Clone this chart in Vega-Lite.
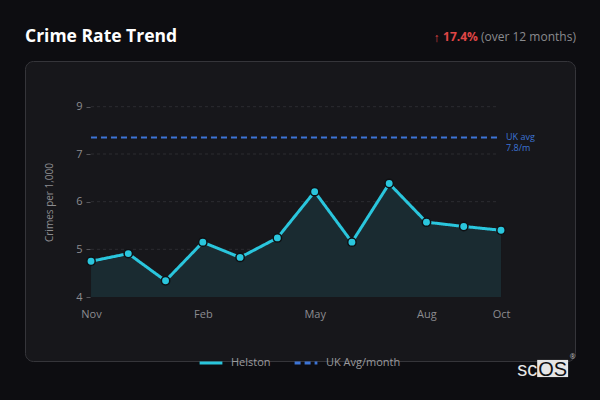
{
  "$schema": "https://vega.github.io/schema/vega-lite/v6.json",
  "width": 550,
  "height": 300,
  "autosize": {"type": "none"},
  "padding": {"left": 25, "top": 61, "right": 25, "bottom": 39},
  "background": "#0d0d11",
  "config": {
    "font": "Open Sans",
    "view": {"fill": "#17171b", "stroke": "#35353a", "strokeWidth": 1, "cornerRadius": 8}
  },
  "datasets": {
    "crime": [
      {"i": 0, "month": "Nov", "v": 4.75, "series": "Helston"},
      {"i": 1, "month": "Dec", "v": 4.91, "series": "Helston"},
      {"i": 2, "month": "Jan", "v": 4.34, "series": "Helston"},
      {"i": 3, "month": "Feb", "v": 5.15, "series": "Helston"},
      {"i": 4, "month": "Mar", "v": 4.83, "series": "Helston"},
      {"i": 5, "month": "Apr", "v": 5.24, "series": "Helston"},
      {"i": 6, "month": "May", "v": 6.21, "series": "Helston"},
      {"i": 7, "month": "Jun", "v": 5.15, "series": "Helston"},
      {"i": 8, "month": "Jul", "v": 6.38, "series": "Helston"},
      {"i": 9, "month": "Aug", "v": 5.57, "series": "Helston"},
      {"i": 10, "month": "Sep", "v": 5.48, "series": "Helston"},
      {"i": 11, "month": "Oct", "v": 5.40, "series": "Helston"}
    ],
    "avg": [{"series": "UK Avg/month", "v": 7.7}],
    "grid": [{"g": 5}, {"g": 6}, {"g": 7}, {"g": 9}]
  },
  "encoding": {
    "x": {
      "type": "quantitative",
      "scale": {"domain": [-1.771, 12.985], "nice": false, "zero": false},
      "axis": {
        "title": null,
        "values": [0, 3, 6, 9, 11],
        "labelExpr": "['Nov','Dec','Jan','Feb','Mar','Apr','May','Jun','Jul','Aug','Sep','Oct'][datum.value]",
        "offset": -63,
        "domain": false,
        "ticks": false,
        "tickSize": 0,
        "grid": false,
        "labelPadding": 10,
        "labelFontSize": 11,
        "labelColor": "#8c8c90",
        "labelFont": "Open Sans"
      }
    },
    "y": {
      "type": "quantitative",
      "scale": {"domain": [4, 7, 9], "range": [236, 93, 45.7], "nice": false, "zero": false},
      "axis": {
        "title": "Crimes per 1,000",
        "values": [4, 5, 6, 7, 9],
        "offset": -65,
        "domain": false,
        "ticks": true,
        "tickSize": 4,
        "tickColor": "#55555a",
        "grid": false,
        "labelPadding": 4,
        "labelFontSize": 11,
        "labelColor": "#8c8c90",
        "titleFontSize": 10,
        "titleFontWeight": "normal",
        "titleColor": "#8c8c90",
        "titleX": -41,
        "titleY": 141,
        "titleAngle": -90,
        "titleAlign": "center",
        "titleBaseline": "middle"
      }
    }
  },
  "layer": [
    {
      "data": {"name": "grid"},
      "mark": {"type": "rule", "color": "#2c2c31", "strokeWidth": 1, "strokeDash": [3, 3]},
      "encoding": {
        "x": {"datum": 0, "type": "quantitative"},
        "x2": {"datum": 10.9},
        "y": {"field": "g", "type": "quantitative"}
      }
    },
    {
      "data": {"name": "crime"},
      "mark": {"type": "area", "color": "#1a2b31", "opacity": 1},
      "encoding": {
        "x": {"field": "i", "type": "quantitative"},
        "y": {"field": "v", "type": "quantitative"},
        "y2": {"datum": 4}
      }
    },
    {
      "data": {"name": "avg"},
      "mark": {"type": "rule", "strokeWidth": 2},
      "encoding": {
        "x": {"datum": 0, "type": "quantitative"},
        "x2": {"datum": 10.9},
        "y": {"field": "v", "type": "quantitative"},
        "color": {"field": "series", "type": "nominal"},
        "strokeDash": {"field": "series", "type": "nominal"}
      }
    },
    {
      "data": {"name": "crime"},
      "mark": {"type": "line", "strokeWidth": 3},
      "encoding": {
        "x": {"field": "i", "type": "quantitative"},
        "y": {"field": "v", "type": "quantitative"},
        "color": {
          "field": "series",
          "type": "nominal",
          "scale": {"domain": ["Helston", "UK Avg/month"], "range": ["#2ac6dd", "#3d74d6"]},
          "legend": {
            "title": null,
            "orient": "none",
            "direction": "horizontal",
            "legendX": 173,
            "legendY": 289,
            "symbolType": "stroke",
            "symbolSize": 520,
            "symbolStrokeWidth": 3,
            "labelFontSize": 11,
            "labelColor": "#9a9a9e",
            "labelOffset": 7,
            "columnPadding": 17
          }
        },
        "strokeDash": {
          "field": "series",
          "type": "nominal",
          "scale": {"domain": ["Helston", "UK Avg/month"], "range": [[1, 0], [6, 4]]},
          "legend": {
            "title": null,
            "orient": "none",
            "direction": "horizontal",
            "legendX": 173,
            "legendY": 289,
            "symbolType": "stroke",
            "symbolSize": 520,
            "symbolStrokeWidth": 3,
            "labelFontSize": 11,
            "labelColor": "#9a9a9e",
            "labelOffset": 7,
            "columnPadding": 17
          }
        }
      }
    },
    {
      "data": {"name": "crime"},
      "mark": {"type": "point", "filled": true, "fill": "#2ac6dd", "stroke": "#0f1013", "strokeWidth": 1.5, "size": 70, "opacity": 1},
      "encoding": {
        "x": {"field": "i", "type": "quantitative"},
        "y": {"field": "v", "type": "quantitative"}
      }
    },
    {
      "data": {"values": [{}]},
      "mark": {"type": "text", "align": "left", "baseline": "middle", "fontSize": 9, "lineHeight": 11.5, "color": "#3d74d6", "clip": false},
      "encoding": {"x": {"datum": 11.135, "type": "quantitative"}, "y": {"datum": 7.72, "type": "quantitative"}, "text": {"value": ["UK avg", "7.8/m"]}}
    },
    {
      "data": {"values": [{}]},
      "mark": {"type": "text", "align": "left", "baseline": "middle", "fontSize": 17.5, "fontWeight": "bold", "color": "#ffffff", "clip": false},
      "encoding": {"x": {"datum": -1.771, "type": "quantitative"}, "y": {"datum": 11.94, "type": "quantitative"}, "text": {"value": "Crime Rate Trend"}}
    },
    {
      "data": {"values": [{}]},
      "mark": {"type": "text", "align": "right", "baseline": "middle", "fontSize": 12, "color": "#8a8a8e", "clip": false},
      "encoding": {"x": {"datum": 13.01, "type": "quantitative"}, "y": {"datum": 11.94, "type": "quantitative"}, "text": {"value": "(over 12 months)"}}
    },
    {
      "data": {"values": [{}]},
      "mark": {"type": "text", "align": "right", "baseline": "middle", "fontSize": 12, "fontWeight": "bold", "color": "#e04646", "clip": false},
      "encoding": {"x": {"datum": 10.38, "type": "quantitative"}, "y": {"datum": 11.94, "type": "quantitative"}, "text": {"value": "17.4%"}}
    },
    {
      "data": {"values": [{}]},
      "mark": {"type": "text", "align": "center", "baseline": "middle", "fontSize": 12, "color": "#e04646", "clip": false},
      "encoding": {"x": {"datum": 9.27, "type": "quantitative"}, "y": {"datum": 11.9, "type": "quantitative"}, "text": {"value": "↑"}}
    },
    {
      "data": {"values": [{}]},
      "mark": {"type": "rect", "color": "#e6e6e6", "clip": false},
      "encoding": {"x": {"datum": 11.97, "type": "quantitative"}, "x2": {"datum": 12.80}, "y": {"datum": 2.68, "type": "quantitative"}, "y2": {"datum": 2.32}}
    },
    {
      "data": {"values": [{}]},
      "mark": {"type": "text", "align": "right", "baseline": "alphabetic", "fontSize": 20, "font": "Liberation Sans", "color": "#e6e6e6", "clip": false},
      "encoding": {"x": {"datum": 11.97, "type": "quantitative"}, "y": {"datum": 2.34, "type": "quantitative"}, "text": {"value": "sc"}}
    },
    {
      "data": {"values": [{}]},
      "mark": {"type": "text", "align": "center", "baseline": "alphabetic", "fontSize": 20, "font": "Liberation Sans", "color": "#111114", "clip": false},
      "encoding": {"x": {"datum": 12.385, "type": "quantitative"}, "y": {"datum": 2.34, "type": "quantitative"}, "text": {"value": "OS"}}
    },
    {
      "data": {"values": [{}]},
      "mark": {"type": "text", "align": "center", "baseline": "middle", "fontSize": 7, "color": "#bbbbbb", "clip": false},
      "encoding": {"x": {"datum": 12.92, "type": "quantitative"}, "y": {"datum": 2.74, "type": "quantitative"}, "text": {"value": "®"}}
    }
  ]
}
